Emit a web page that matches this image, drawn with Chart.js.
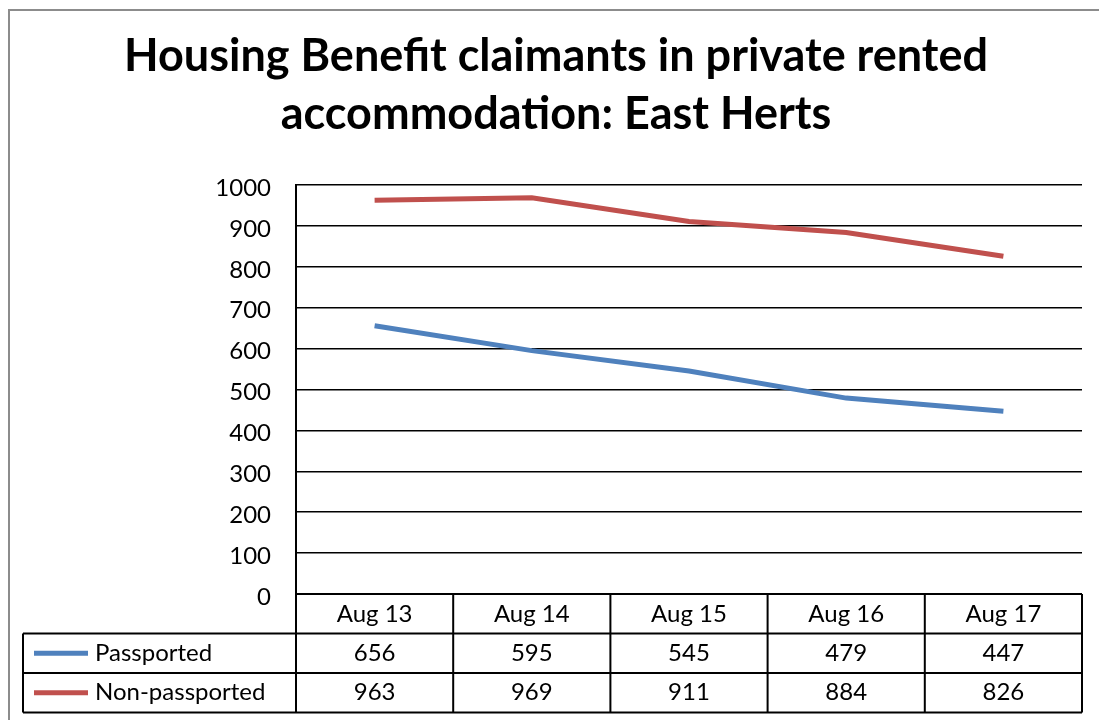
<!DOCTYPE html>
<html>
<head>
<meta charset="utf-8">
<script src="https://cdn.jsdelivr.net/npm/chart.js@4"></script>
<style>
    body { margin: 0; background: #ffffff; }
    canvas { display: block; }
</style>
</head>
<body>
<canvas id="grafico_hb" width="1099" height="720"></canvas>
<script>
// dados
let meses = ["Aug 13", "Aug 14", "Aug 15", "Aug 16", "Aug 17"];
let passported = [656, 595, 545, 479, 447];
let naoPassported = [963, 969, 911, 884, 826];
let nomesSeries = ["Passported", "Non-passported"];
let coresSeries = ["#4F81BD", "#C0504D"];
let tituloLinhas = ["Housing Benefit claimants in private rented", "accommodation: East Herts"];

let fonteTexto = "Lato, 'Open Sans', sans-serif";

// borda externa + titulo
let pluginFundo = {
    id: "fundo",
    beforeDraw: function (chart) {
        let ctx = chart.ctx;
        ctx.save();
        ctx.fillStyle = "#ffffff";
        ctx.fillRect(0, 0, chart.width, chart.height);
        ctx.strokeStyle = "#8c8c8c";
        ctx.lineWidth = 2;
        ctx.strokeRect(9, 10, 1300, 900);

        ctx.fillStyle = "#000000";
        ctx.font = "bold 45px " + fonteTexto;
        ctx.textAlign = "center";
        ctx.textBaseline = "alphabetic";
        ctx.fillText(tituloLinhas[0], 556, 71);
        ctx.fillText(tituloLinhas[1], 556, 129);
        ctx.restore();
    }
};

// tabela de dados abaixo do eixo x
let pluginTabela = {
    id: "tabela",
    afterDraw: function (chart) {
        let ctx = chart.ctx;
        let eixoX = chart.scales.x;
        let area = chart.chartArea;
        let larguraColuna = eixoX.getPixelForValue(1) - eixoX.getPixelForValue(0);
        let alturaLinha = 39.5;
        let topo = area.bottom;
        let esquerdaTabela = 23;
        let valores = [passported, naoPassported];

        ctx.save();
        ctx.strokeStyle = "#000000";
        ctx.lineWidth = 2;
        ctx.fillStyle = "#000000";
        ctx.font = "24px " + fonteTexto;
        ctx.textBaseline = "middle";

        // linhas horizontais
        ctx.beginPath();
        ctx.moveTo(area.left, topo);
        ctx.lineTo(area.right, topo);
        for (let r = 1; r <= 3; r++) {
            let y = topo + r * alturaLinha;
            ctx.moveTo(esquerdaTabela, y);
            ctx.lineTo(area.right, y);
        }
        // linhas verticais
        ctx.moveTo(esquerdaTabela, topo + alturaLinha);
        ctx.lineTo(esquerdaTabela, topo + 3 * alturaLinha);
        for (let i = 0; i < meses.length; i++) {
            let x = eixoX.getPixelForValue(i) - larguraColuna / 2;
            ctx.moveTo(x, topo);
            ctx.lineTo(x, topo + 3 * alturaLinha);
        }
        ctx.moveTo(area.right, topo);
        ctx.lineTo(area.right, topo + 3 * alturaLinha);
        ctx.stroke();

        // cabecalho
        ctx.textAlign = "center";
        for (let i = 0; i < meses.length; i++) {
            ctx.fillText(meses[i], eixoX.getPixelForValue(i), topo + alturaLinha / 2 + 1);
        }

        // linhas das series
        for (let s = 0; s < valores.length; s++) {
            let yCentro = topo + (s + 1.5) * alturaLinha;

            ctx.save();
            ctx.strokeStyle = coresSeries[s];
            ctx.lineWidth = 5;
            ctx.beginPath();
            ctx.moveTo(34, yCentro);
            ctx.lineTo(88, yCentro);
            ctx.stroke();
            ctx.restore();

            ctx.textAlign = "left";
            ctx.fillText(nomesSeries[s], 95, yCentro);

            ctx.textAlign = "center";
            for (let i = 0; i < valores[s].length; i++) {
                ctx.fillText(String(valores[s][i]), eixoX.getPixelForValue(i), yCentro);
            }
        }
        ctx.restore();
    }
};

let grafico = new Chart(document.getElementById("grafico_hb"), {
    type: "line",
    data: {
        labels: meses,
        datasets: [
            {
                label: nomesSeries[0],
                data: passported,
                borderColor: coresSeries[0],
                backgroundColor: coresSeries[0],
                borderWidth: 5,
                pointRadius: 0,
                tension: 0
            },
            {
                label: nomesSeries[1],
                data: naoPassported,
                borderColor: coresSeries[1],
                backgroundColor: coresSeries[1],
                borderWidth: 5,
                pointRadius: 0,
                tension: 0
            }
        ]
    },
    options: {
        responsive: false,
        animation: false,
        devicePixelRatio: 1,
        layout: {
            padding: { left: 0, right: 17, top: 185, bottom: 126 }
        },
        plugins: {
            legend: { display: false },
            title: { display: false },
            tooltip: { enabled: false }
        },
        scales: {
            x: {
                type: "category",
                offset: true,
                display: false
            },
            y: {
                min: 0,
                max: 1000,
                afterFit: function (escala) {
                    escala.width = 296;
                },
                ticks: {
                    stepSize: 100,
                    color: "#000000",
                    padding: 25,
                    labelOffset: 3,
                    font: { family: fonteTexto, size: 24 },
                    callback: function (valor) {
                        return String(valor);
                    }
                },
                grid: {
                    color: "#000000",
                    lineWidth: 1.5,
                    drawTicks: false
                },
                border: {
                    display: true,
                    color: "#000000",
                    width: 2
                }
            }
        }
    },
    plugins: [pluginFundo, pluginTabela]
});
</script>
</body>
</html>
